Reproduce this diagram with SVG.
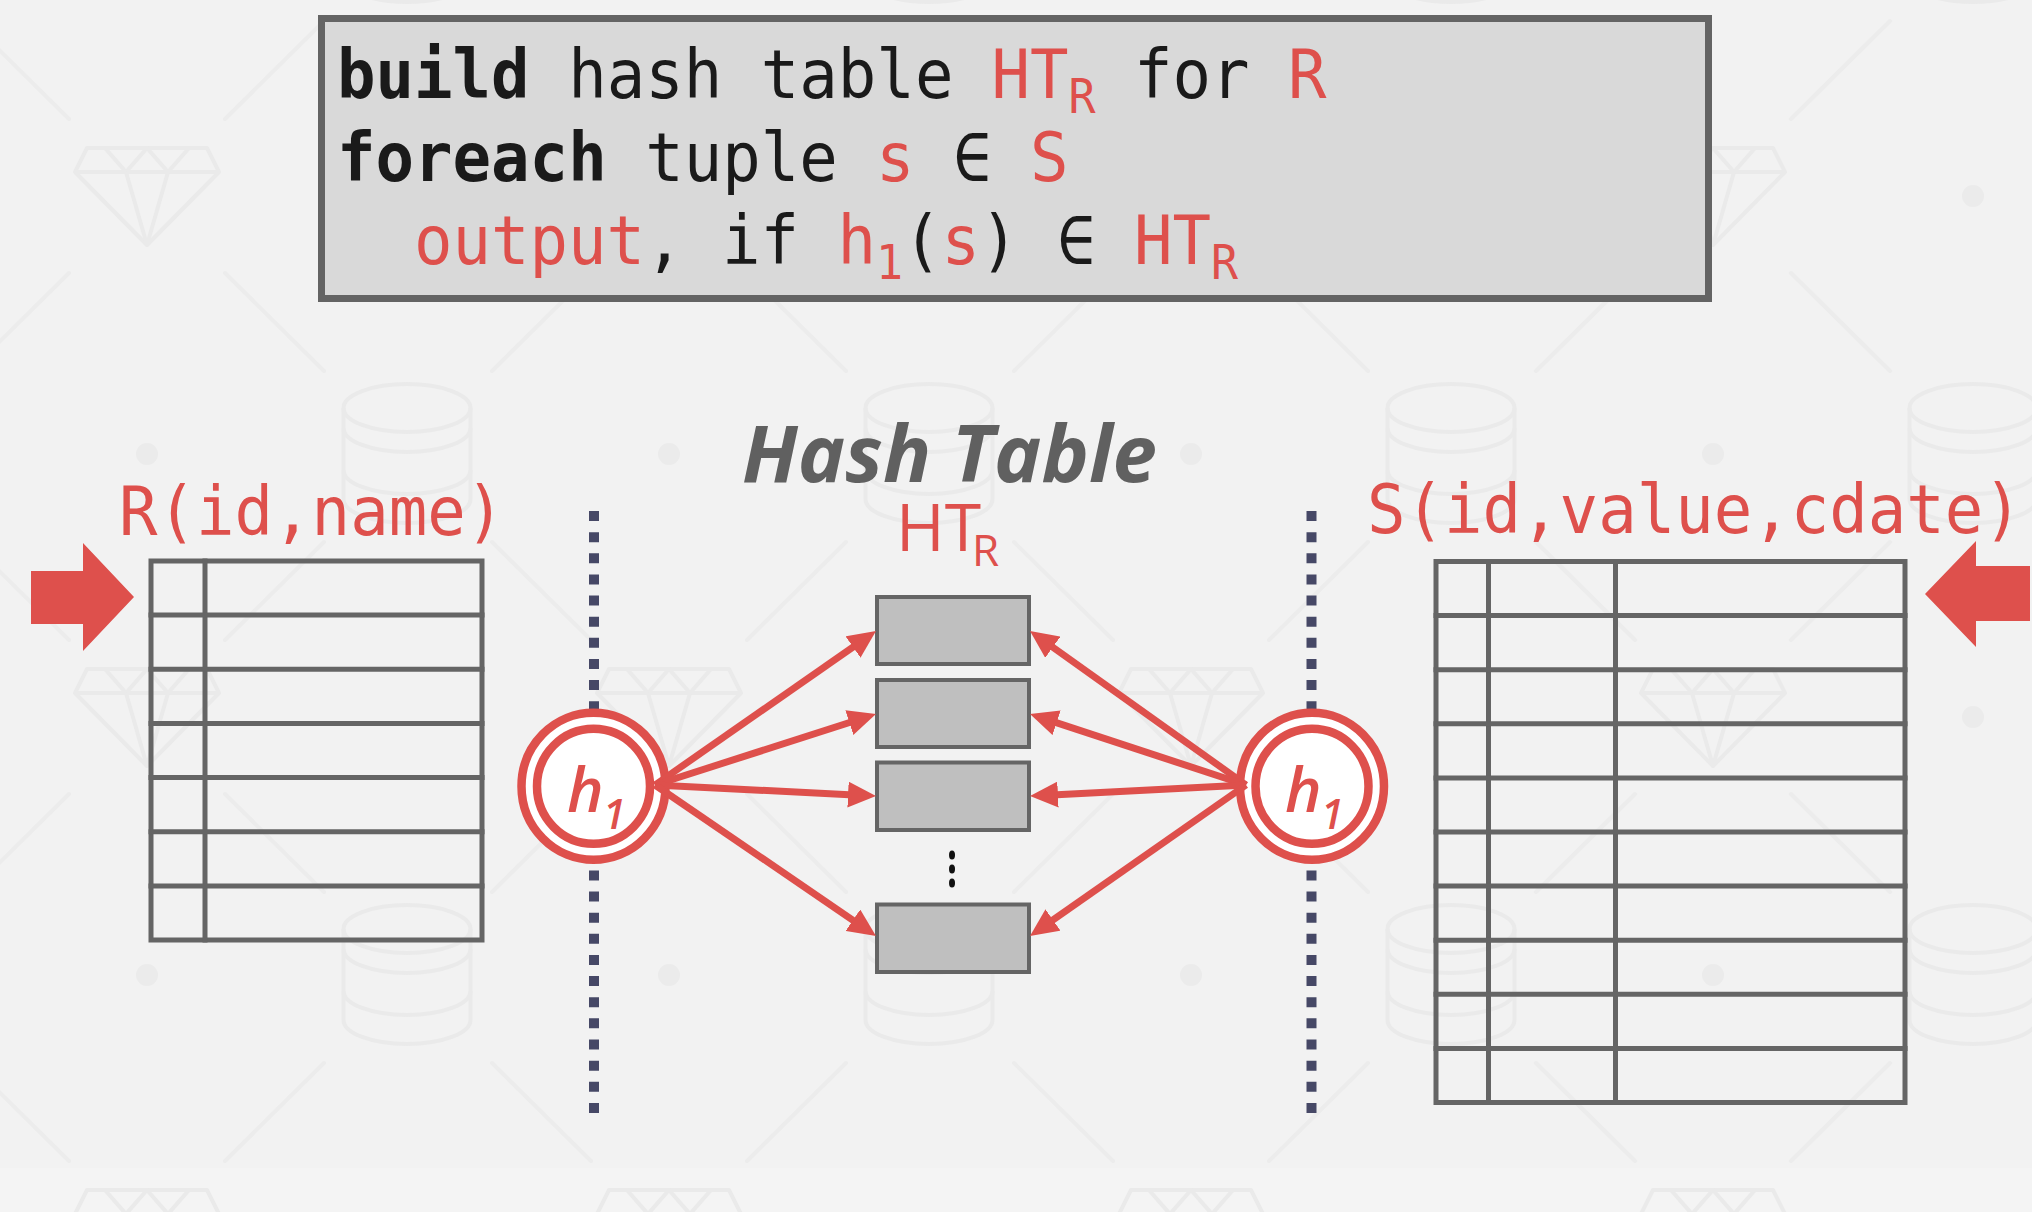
<svg xmlns="http://www.w3.org/2000/svg" width="2032" height="1212" viewBox="0 0 2032 1212">
  <defs>
    <style>
      .code { font-family: "DejaVu Sans Mono", "Liberation Mono", monospace; font-size: 64px; fill: #1a1a1a; }
      .red { fill: #de504c; }
      .blk { fill: #1a1a1a; }
      .b { font-weight: bold; }
      .sub { font-size: 45px; }
      .tbl { fill: none; stroke: #656565; stroke-width: 5; stroke-linecap: square; }
      .bucket { fill: #bfbfbf; stroke: #656565; stroke-width: 4; }
      .sep { stroke: #464866; stroke-width: 10; stroke-dasharray: 10 11.14; fill: none; }
      .ring { fill: #ffffff; stroke: #de504c; stroke-width: 8.5; }
      .hlabel { font-family: "Open Sans", "Noto Sans", sans-serif; font-style: italic; font-weight: 600; fill: #de504c; }
      .conn { stroke: #de504c; stroke-width: 7; fill: none; marker-end: url(#ah); }
      .wm { fill: none; stroke: #eaeaea; stroke-width: 4; stroke-linejoin: round; }
      .wml { fill: none; stroke: #ececec; stroke-width: 4; stroke-linecap: round; }
    </style>
    <marker id="ah" markerUnits="userSpaceOnUse" viewBox="0 0 28 26" markerWidth="28" markerHeight="26" refX="6" refY="13" orient="auto">
      <path d="M0,0 L28,13 L0,26 z" fill="#de504c"/>
    </marker>
    <g id="wm-diamond" class="wm">
      <polygon points="-60,-48 60,-48 72,-24 0,49 -72,-24"/>
      <polyline points="-72,-24 72,-24"/>
      <polyline points="-42,-48 -21,-24 0,-48 21,-24 42,-48"/>
      <polyline points="-21,-24 0,49 21,-24"/>
    </g>
    <g id="wm-x" class="wml">
      <line x1="78" y1="77" x2="177" y2="175"/>
      <line x1="-78" y1="77" x2="-177" y2="175"/>
      <line x1="78" y1="-77" x2="177" y2="-175"/>
      <line x1="-78" y1="-77" x2="-177" y2="-175"/>
    </g>
    <g id="wm-cyl" class="wm">
      <ellipse cx="0" cy="-46" rx="63.5" ry="24"/>
      <path d="M-63.5,-46 L-63.5,45 A63.5,24 0 0 0 63.5,45 L63.5,-46"/>
      <path d="M-63.5,-26 A63.5,24 0 0 0 63.5,-26"/>
      <path d="M-63.5,16 A63.5,24 0 0 0 63.5,16"/>
    </g>
    <circle id="wm-dot" r="11" fill="#ebebeb"/>
  </defs>

  <g id="background">
    <rect x="0" y="0" width="2032" height="1212" fill="#f2f2f2"/>
    <rect x="0" y="1168" width="2032" height="44" fill="#f4f4f4"/>
    <use href="#wm-x" x="147" y="196"/><use href="#wm-x" x="669" y="196"/><use href="#wm-x" x="1191" y="196"/><use href="#wm-x" x="1713" y="196"/>
    <use href="#wm-x" x="147" y="717"/><use href="#wm-x" x="669" y="717"/><use href="#wm-x" x="1191" y="717"/><use href="#wm-x" x="1713" y="717"/>
    <use href="#wm-x" x="147" y="1238"/><use href="#wm-x" x="669" y="1238"/><use href="#wm-x" x="1191" y="1238"/><use href="#wm-x" x="1713" y="1238"/>
    <use href="#wm-diamond" x="147" y="196"/><use href="#wm-diamond" x="669" y="196"/><use href="#wm-diamond" x="1191" y="196"/><use href="#wm-diamond" x="1713" y="196"/>
    <use href="#wm-diamond" x="147" y="717"/><use href="#wm-diamond" x="669" y="717"/><use href="#wm-diamond" x="1191" y="717"/><use href="#wm-diamond" x="1713" y="717"/>
    <use href="#wm-diamond" x="147" y="1238"/><use href="#wm-diamond" x="669" y="1238"/><use href="#wm-diamond" x="1191" y="1238"/><use href="#wm-diamond" x="1713" y="1238"/>
    <use href="#wm-cyl" x="407" y="-67"/><use href="#wm-cyl" x="929" y="-67"/><use href="#wm-cyl" x="1451" y="-67"/><use href="#wm-cyl" x="1973" y="-67"/>
    <use href="#wm-cyl" x="407" y="454"/><use href="#wm-cyl" x="929" y="454"/><use href="#wm-cyl" x="1451" y="454"/><use href="#wm-cyl" x="1973" y="454"/>
    <use href="#wm-cyl" x="407" y="975"/><use href="#wm-cyl" x="929" y="975"/><use href="#wm-cyl" x="1451" y="975"/><use href="#wm-cyl" x="1973" y="975"/>
    <use href="#wm-dot" x="147" y="454"/><use href="#wm-dot" x="669" y="454"/><use href="#wm-dot" x="1191" y="454"/><use href="#wm-dot" x="1713" y="454"/>
    <use href="#wm-dot" x="147" y="975"/><use href="#wm-dot" x="669" y="975"/><use href="#wm-dot" x="1191" y="975"/><use href="#wm-dot" x="1713" y="975"/>
    <use href="#wm-dot" x="1973" y="196"/><use href="#wm-dot" x="1973" y="717"/>
  </g>

  <!-- pseudo-code box -->
  <g id="code-box">
    <rect x="321.5" y="18.5" width="1387" height="280" fill="#d9d9d9" stroke="#646464" stroke-width="7"/>
    <text class="code" y="98" transform="matrix(1,0,0,1.05,0,-4.9)">
      <tspan x="337" class="b blk">build</tspan><tspan class="blk"> hash table </tspan><tspan x="991.5" class="red">HT</tspan><tspan x="1068.5" y="112" class="red sub">R</tspan><tspan x="1095.5" y="98" class="blk"> for </tspan><tspan x="1288" class="red">R</tspan>
    </text>
    <text class="code" y="181" transform="matrix(1,0,0,1.05,0,-9.05)">
      <tspan x="337" class="b blk">foreach</tspan><tspan class="blk"> tuple </tspan><tspan x="876" class="red">s</tspan><tspan x="953" class="blk">∈</tspan><tspan x="1030" class="red">S</tspan>
    </text>
    <text class="code" y="264" transform="matrix(1,0,0,1.05,0,-13.2)">
      <tspan x="414" class="red">output</tspan><tspan x="645" class="blk">,</tspan><tspan x="722" class="blk">if</tspan><tspan x="837.5" class="red">h</tspan><tspan x="876" y="278" class="red sub">1</tspan><tspan x="903" y="264" class="blk">(</tspan><tspan x="941.5" class="red">s</tspan><tspan x="980" class="blk">)</tspan><tspan x="1057" class="blk">∈</tspan><tspan x="1134" class="red">HT</tspan><tspan x="1211" y="278" class="red sub">R</tspan>
    </text>
  </g>

  <!-- separators -->
  <g id="separators">
    <line class="sep" x1="594" y1="511" x2="594" y2="1114"/>
    <line class="sep" x1="1311.5" y1="511" x2="1311.5" y2="1114"/>
  </g>

  <!-- Relation R -->
  <g id="relation-R">
    <text class="code red" x="119" y="535" transform="matrix(1,0,0,1.05,0,-26.75)">R(id,name)</text>
    <polygon points="31,571 83,571 83,543 134,597 83,651 83,624 31,624" fill="#de504c"/>
    <g class="tbl">
      <rect x="151" y="561" width="331" height="379"/>
      <line x1="205" y1="561" x2="205" y2="940"/>
      <line x1="151" y1="615.1" x2="482" y2="615.1"/>
      <line x1="151" y1="669.3" x2="482" y2="669.3"/>
      <line x1="151" y1="723.4" x2="482" y2="723.4"/>
      <line x1="151" y1="777.6" x2="482" y2="777.6"/>
      <line x1="151" y1="831.7" x2="482" y2="831.7"/>
      <line x1="151" y1="885.9" x2="482" y2="885.9"/>
    </g>
  </g>

  <!-- Relation S -->
  <g id="relation-S">
    <text class="code red" x="1367" y="533" transform="matrix(1,0,0,1.05,0,-26.65)">S(id,value,cdate)</text>
    <polygon points="1925,594 1976,541 1976,566 2030,566 2030,621 1976,621 1976,647" fill="#de504c"/>
    <g class="tbl">
      <rect x="1436" y="561.5" width="469" height="541"/>
      <line x1="1488.5" y1="561.5" x2="1488.5" y2="1102.5"/>
      <line x1="1615.5" y1="561.5" x2="1615.5" y2="1102.5"/>
      <line x1="1436" y1="615.6" x2="1905" y2="615.6"/>
      <line x1="1436" y1="669.7" x2="1905" y2="669.7"/>
      <line x1="1436" y1="723.8" x2="1905" y2="723.8"/>
      <line x1="1436" y1="777.9" x2="1905" y2="777.9"/>
      <line x1="1436" y1="832" x2="1905" y2="832"/>
      <line x1="1436" y1="886.1" x2="1905" y2="886.1"/>
      <line x1="1436" y1="940.2" x2="1905" y2="940.2"/>
      <line x1="1436" y1="994.3" x2="1905" y2="994.3"/>
      <line x1="1436" y1="1048.4" x2="1905" y2="1048.4"/>
    </g>
  </g>

  <!-- Hash table title -->
  <g id="hash-table-title">
    <text x="742" y="482" font-family="'Open Sans', 'Noto Sans', sans-serif" font-weight="bold" font-style="italic" font-size="78" fill="#606060" textLength="415" lengthAdjust="spacingAndGlyphs">Hash Table</text>
    <text font-family="'Open Sans', 'Noto Sans', sans-serif" fill="#de504c"><tspan x="896" y="551" font-size="66">HT</tspan><tspan x="972" y="566" font-size="44">R</tspan></text>
  </g>

  <!-- buckets -->
  <g id="bucket-1"><rect class="bucket" x="877" y="597" width="152" height="67"/></g>
  <g id="bucket-2"><rect class="bucket" x="877" y="680" width="152" height="67"/></g>
  <g id="bucket-3"><rect class="bucket" x="877" y="762.5" width="152" height="67.5"/></g>
  <g id="bucket-ellipsis" fill="#111111">
    <ellipse cx="952" cy="855" rx="3" ry="4.5"/>
    <ellipse cx="952" cy="869" rx="3" ry="4.5"/>
    <ellipse cx="952" cy="883" rx="3" ry="4.5"/>
  </g>
  <g id="bucket-4"><rect class="bucket" x="877" y="904.5" width="152" height="67.5"/></g>

  <!-- hash functions -->
  <g id="hash-left">
    <ellipse class="ring" cx="593.5" cy="786.3" rx="72" ry="73.5"/>
    <ellipse class="ring" cx="593.5" cy="786.3" rx="56.5" ry="57.5" stroke-width="8"/>
    <text class="hlabel"><tspan x="567" y="812" font-size="62">h</tspan><tspan x="603" y="829" font-size="41">1</tspan></text>
  </g>
  <g id="hash-right">
    <ellipse class="ring" cx="1312" cy="786.3" rx="72" ry="73.5"/>
    <ellipse class="ring" cx="1312" cy="786.3" rx="56.5" ry="57.5" stroke-width="8"/>
    <text class="hlabel"><tspan x="1285" y="812" font-size="62">h</tspan><tspan x="1321" y="829" font-size="41">1</tspan></text>
  </g>

  <!-- connectors -->
  <g id="connectors">
    <line class="conn" x1="655" y1="785" x2="857.95" y2="643.58"/>
    <line class="conn" x1="655" y1="785" x2="855.05" y2="720.73"/>
    <line class="conn" x1="655" y1="785" x2="854.03" y2="794.91"/>
    <line class="conn" x1="655" y1="785" x2="857.84" y2="923.59"/>
    <line class="conn" x1="1246" y1="785" x2="1047.91" y2="643.77"/>
    <line class="conn" x1="1246" y1="785" x2="1050.9" y2="720.87"/>
    <line class="conn" x1="1246" y1="785" x2="1051.97" y2="794.88"/>
    <line class="conn" x1="1246" y1="785" x2="1048.03" y2="923.39"/>
  </g>
</svg>
